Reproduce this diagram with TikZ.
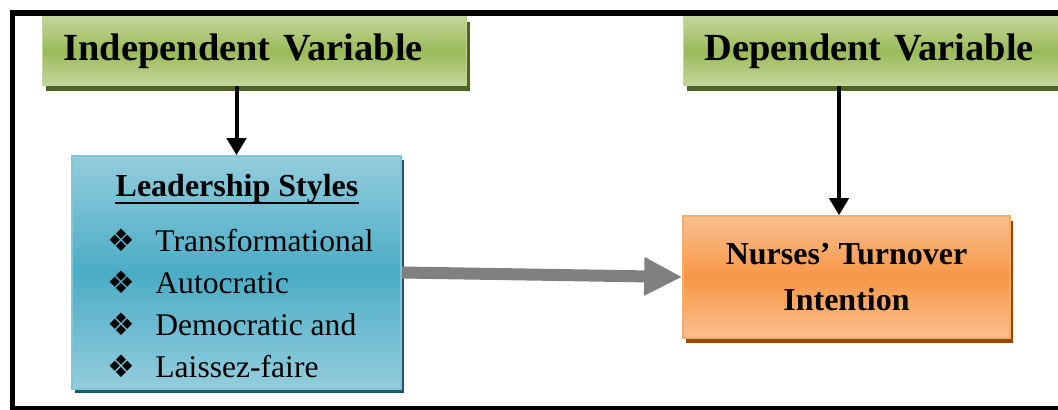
\documentclass[tikz,border=0pt]{standalone}
\usepackage{fontspec}
\setmainfont{Liberation Serif}
\newfontfamily\symfont{DejaVu Sans}
\usetikzlibrary{arrows.meta,shadows}

\definecolor{greenlight}{HTML}{C3D69B}
\definecolor{greenmid}{HTML}{9BBB59}
\definecolor{greendark}{HTML}{4F6228}
\definecolor{bluelight}{HTML}{93CDDD}
\definecolor{bluemid}{HTML}{4BACC6}
\definecolor{bluedark}{HTML}{215968}
\definecolor{orangelight}{HTML}{FAC090}
\definecolor{orangemid}{HTML}{F79646}
\definecolor{orangedark}{HTML}{984807}
\definecolor{arrowgray}{HTML}{808080}

\tikzset{
  varbox/.style={draw=greenlight, line width=0.6pt,
    top color=greenlight, bottom color=greenlight, middle color=greenmid,
    drop shadow={shadow xshift=1.5pt, shadow yshift=-2.5pt, fill=greendark, opacity=1},
    minimum height=34.5pt, inner xsep=10.5pt, align=left, anchor=north west,
    font=\bfseries\fontsize{19.2}{23}\selectfont},
  leadbox/.style={draw=bluemid!70!white, line width=0.8pt,
    top color=bluelight, bottom color=bluelight, middle color=bluemid,
    drop shadow={shadow xshift=1.5pt, shadow yshift=-2pt, fill=bluedark, opacity=1},
    minimum width=164.5pt, minimum height=116.5pt},
  outbox/.style={draw=orangemid!80!white, line width=0.8pt,
    top color=orangelight, bottom color=orangelight, middle color=orangemid,
    drop shadow={shadow xshift=1.5pt, shadow yshift=-2.5pt, fill=orangedark, opacity=1},
    minimum width=163.5pt, minimum height=61pt, align=center,
    font=\bfseries\fontsize{16}{23}\selectfont},
  itemtext/.style={anchor=base west, inner sep=0pt, font=\fontsize{15.8}{19}\selectfont},
  itembullet/.style={anchor=base, inner sep=0pt, font=\symfont\fontsize{15.5}{18}\selectfont},
  blackarrow/.style={line width=2pt, -{Triangle[width=9.5pt,length=8.5pt]}},
  grayarrow/.style={draw=arrowgray, line width=6pt, -{Triangle[width=18pt,length=19pt]}}
}

\begin{document}
\begin{tikzpicture}[x=0.5pt, y=-0.5pt]
    \useasboundingbox (0,0) rectangle (1058,410);
    \clip (0,0) rectangle (1058,410);

    \draw[line width=2.75pt] (1080,13) -- (12.5,13) -- (12.5,408.5) -- (1080,408.5);

    \node[varbox, text width=191pt] (iv) at (42,16) {Independent Variable};
    \node[varbox, text width=200pt] (dv) at (683,16) {Dependent Variable};

    \node[leadbox] (lead) at (236.5,272.5) {};
    \node[inner sep=0pt, anchor=base, font=\bfseries\fontsize{16}{19}\selectfont] (leadtitle) at (237,197) {Leadership Styles};
    \draw[line width=1.4pt] ([yshift=-3pt]leadtitle.base west) -- ([yshift=-3pt]leadtitle.base east);
    \foreach \style [count=\i] in {Transformational, Autocratic, Democratic and, Laissez-faire} {
        \node[itembullet] (bullet\i) at (121,{252+42*(\i-1)}) {❖};
        \node[itemtext] (item\i) at (155,{252+42*(\i-1)}) {\style};
    }

    \node[outbox] (turnover) at (846.5,277) {Nurses' Turnover\\Intention};

    \coordinate (dvline) at (839,0);
    \draw[blackarrow] (iv.south -| lead.north) -- (lead.north);
    \draw[blackarrow] (dv.south -| dvline) -- (turnover.north -| dvline);
    \draw[grayarrow] (lead.east) -- (turnover.west);

\end{tikzpicture}
\end{document}
